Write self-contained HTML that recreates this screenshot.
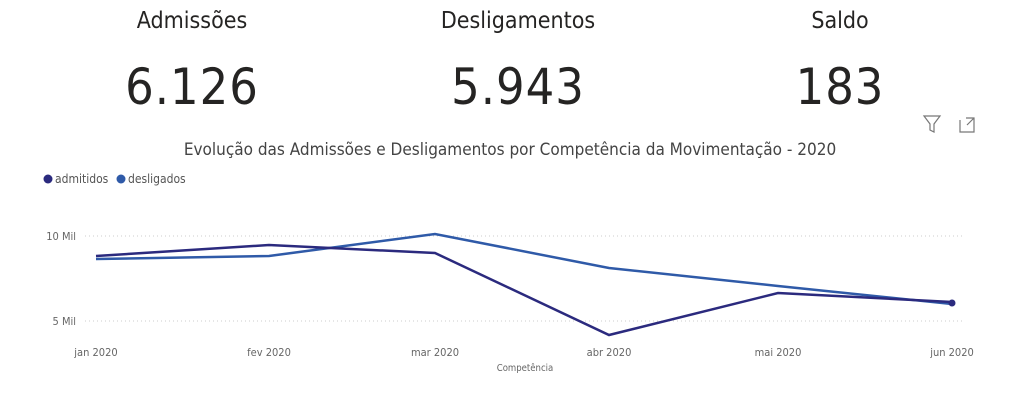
<!DOCTYPE html>
<html><head><meta charset="utf-8"><style>
body{margin:0;width:1024px;height:406px;background:#fff;overflow:hidden;font-family:"DejaVu Sans Condensed","Liberation Sans",sans-serif;position:relative}
.t{position:absolute;text-align:center;color:#252423}
.h{font-size:23px;top:8px;width:260px}
.n{font-size:50px;top:58px;width:260px;letter-spacing:1px}
</style></head><body>
<div class="t h" style="left:62px">Admissões</div>
<div class="t h" style="left:388px">Desligamentos</div>
<div class="t h" style="left:710px">Saldo</div>
<div class="t n" style="left:62px">6.126</div>
<div class="t n" style="left:388px">5.943</div>
<div class="t n" style="left:710px">183</div>
<div class="t" style="left:0;width:1020px;top:140px;font-size:17px;color:#444">Evolução das Admissões e Desligamentos por Competência da Movimentação - 2020</div>
<svg width="1024" height="406" style="position:absolute;left:0;top:0">
<g fill="none" stroke="#777" stroke-width="1.2">
<path d="M924 116h16l-6 8v8l-4-2v-6z"/>
<path d="M960 120v12h14v-6M966 118h8v8M974 118l-7 7"/>
</g>
<circle cx="48" cy="179" r="4.5" fill="#2b2a7e"/><circle cx="121" cy="179" r="4.5" fill="#2f5aa8"/>
<text x="55" y="183" font-size="12" fill="#555" font-family="DejaVu Sans Condensed,Liberation Sans,sans-serif">admitidos</text>
<text x="128" y="183" font-size="12" fill="#555" font-family="DejaVu Sans Condensed,Liberation Sans,sans-serif">desligados</text>
<g stroke="#ccc" stroke-dasharray="1,3"><line x1="85" y1="236" x2="965" y2="236"/><line x1="85" y1="321" x2="965" y2="321"/></g>
<g font-size="11" fill="#666" font-family="DejaVu Sans Condensed,Liberation Sans,sans-serif">
<text x="76" y="240" text-anchor="end">10 Mil</text><text x="76" y="325" text-anchor="end">5 Mil</text>
<g text-anchor="middle"><text x="96" y="356">jan 2020</text><text x="269" y="356">fev 2020</text><text x="435" y="356">mar 2020</text><text x="609" y="356">abr 2020</text><text x="778" y="356">mai 2020</text><text x="952" y="356">jun 2020</text></g>
<text x="525" y="371" font-size="9.5" text-anchor="middle">Competência</text></g>
<polyline fill="none" stroke="#2f5aa8" stroke-width="2.5" points="96,259 269,256 435,234 609,268 778,286 952,304"/>
<polyline fill="none" stroke="#2b2a7e" stroke-width="2.5" points="96,256 269,245 435,253 609,335 778,293 952,302"/>
<circle cx="952" cy="303" r="3.5" fill="#2b2a7e"/>
</svg>
</body></html>
